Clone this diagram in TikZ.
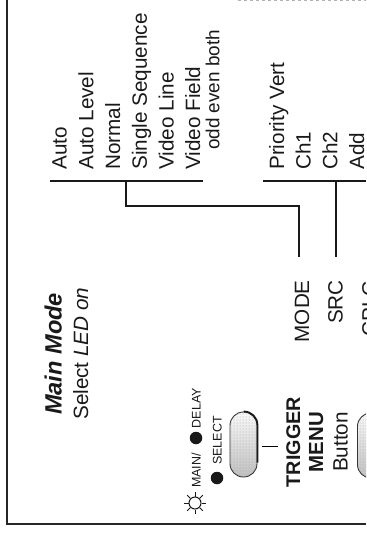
\documentclass[tikz,border=0pt]{standalone}
\usepackage{fontspec}
\usetikzlibrary{patterns}
\setmainfont{Liberation Sans}
\begin{document}
\begin{tikzpicture}[x=1pt,y=-1pt,
  lbl/.style={rotate=90,inner sep=0pt,text=black!90,font=\fontsize{20.7}{21}\selectfont},
  tiny/.style={rotate=90,inner sep=0pt,text=black!90,font=\fontsize{12.5}{13}\selectfont},
  wire/.style={line width=1.8pt,black!90},
  btn/.style={draw=black!80,line width=0.9pt,rounded corners=13.4pt,minimum width=27pt,minimum height=65pt,inner sep=0pt,top color=gray!5,middle color=gray!12,bottom color=gray!50,postaction={pattern=dots,pattern color=black!35}},
  led/.style={circle,fill=black!90,inner sep=0pt,minimum size=12.5pt}]
\useasboundingbox (0,0) rectangle (366,534);
\clip (0,0) rectangle (366,534);
\pgfmathsetmacro{\pitch}{26.7}
\draw[line width=2pt,black!85](7,0)--(7,524)--(366,524);
\draw[gray!60,dashed,line width=0.5pt](238,0.5)--(366,0.5);
% heading
\node[lbl,anchor=base west,font=\fontsize{23.6}{24}\selectfont\bfseries\itshape] (title) at (61.7,415) {Main Mode};
\node[lbl,anchor=base west] (sub) at (88,420) {Select \textit{LED on}};
% mode list
\foreach \t [count=\i from 0] in {Auto,Auto Level,Normal,Single Sequence,Video Line,Video Field}{
  \node[lbl,anchor=base west] (m\i) at (66.7+\i*\pitch,170) {\t};
}
\node[lbl,anchor=base west,font=\fontsize{18.9}{19}\selectfont] (fld) at (219.3,150) {odd even both};
% source list
\foreach \t [count=\i from 0] in {Priority Vert,Ch1,Ch2,Add}{
  \node[lbl,anchor=base west] (s\i) at (284+\i*\pitch,170) {\t};
}
% softkey labels
\node[lbl,anchor=base east] (mode) at (309,280) {MODE};
\node[lbl,anchor=base east] (src) at (342.7,280) {SRC};
\node[lbl,anchor=base east] (cplg) at (376.5,280) {CPLG};
% bars and wires
\coordinate (mbarl) at (50,180.7);
\coordinate (mbarr) at (203,180.7);
\coordinate (sbarl) at (263,180.7);
\coordinate (sbarr) at (366,180.7);
\coordinate (mj) at (126,180.7);
\coordinate (mmid) at (126,206);
\coordinate (mtop) at (299,257);
\coordinate (sj) at (336,180.7);
\coordinate (stop) at (336,257);
\draw[wire](mbarl)--(mbarr);
\draw[wire](sbarl)--(sbarr);
\draw[wire](mj)--(mmid)-|(mtop);
\draw[wire](sj)--(stop);
% buttons
\node[btn] (btna) at (243.5,444.5) {};
\node[btn] (btnb) at (371,445.5) {};
\draw[line width=1.8pt,rounded corners=13.4pt,black!90](btna.north)-|([yshift=-18pt]btna.east);
\coordinate (ticka) at (262,446);
\coordinate (tickb) at (278,446);
\draw[line width=1pt](ticka)--(tickb);
% button text
\node[lbl,anchor=base,font=\fontsize{19.8}{20}\selectfont\bfseries] (trig) at (300,442) {TRIGGER};
\node[lbl,anchor=base,font=\fontsize{20.4}{21}\selectfont\bfseries] (menu) at (323,442) {MENU};
\node[lbl,anchor=base] (butt) at (347.7,442) {Button};
% leds
\node[tiny,anchor=base west] (lmain) at (200.5,488) {MAIN/};
\node[tiny,anchor=base east] (ldelay) at (200.5,388) {DELAY};
\node[led] (ledm) at (196,438) {};
\node[tiny,anchor=base west] (lsel) at (221.7,465) {SELECT};
\node[led] (leds) at (217,478) {};
\node[circle,draw=black!90,line width=1pt,inner sep=0pt,minimum size=12pt] (sun) at (195,503) {};
\foreach \a in {0,45,...,315}{
  \draw[line width=0.9pt,black!90](sun.\a)--([shift={(\a:4.5pt)}]sun.\a);
}
\end{tikzpicture}
\end{document}
